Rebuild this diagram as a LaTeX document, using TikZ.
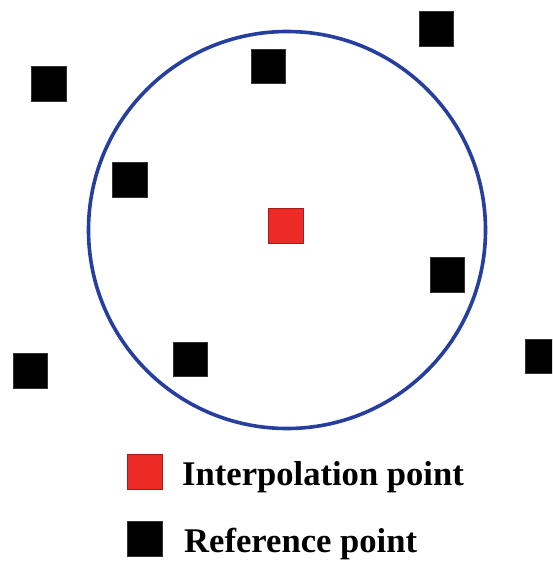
\documentclass[tikz,border=0pt]{standalone}
\usepackage{fontspec}
\setmainfont{Liberation Serif}
\definecolor{ringblue}{RGB}{38,62,158}
\definecolor{interpred}{RGB}{236,42,38}
\begin{document}
\begin{tikzpicture}[x=1pt,y=-1pt,
  refpt/.style={fill=black,draw=black!80,line width=0.4pt,minimum size=34.5pt,inner sep=0pt,rectangle},
  interp/.style={fill=interpred,draw=interpred!70!black,line width=0.4pt,minimum size=34.5pt,inner sep=0pt,rectangle},
  ring/.style={draw=ringblue,line width=3.6pt},
  legendtext/.style={anchor=base west,inner sep=0pt,font=\bfseries\fontsize{34.6}{40}\selectfont}]
\useasboundingbox (0,0) rectangle (552,561);
\clip (0,0) rectangle (552,561);
% search neighbourhood
\draw[ring] (287,230) circle (198.5);
% interpolation point
\node[interp] (ip) at (285.5,225.5) {};
% reference points
\node[refpt] (r1) at (48.5,83.5) {};
\node[refpt] (r2) at (268,66) {};
\node[refpt] (r3) at (436,28.5) {};
\node[refpt] (r4) at (129.5,179.5) {};
\node[refpt] (r5) at (447,274.5) {};
\node[refpt] (r6) at (190,359) {};
\node[refpt] (r7) at (30,370.5) {};
\node[refpt] (r8) at (542.5,356) {};
% legend
\node[interp] (lip) at (144.5,471.5) {};
\node[legendtext] (lipt) at (182,485) {Interpolation point};
\node[refpt] (lrp) at (144.5,538.5) {};
\node[legendtext] (lrpt) at (184,552) {Reference point};
\end{tikzpicture}
\end{document}
